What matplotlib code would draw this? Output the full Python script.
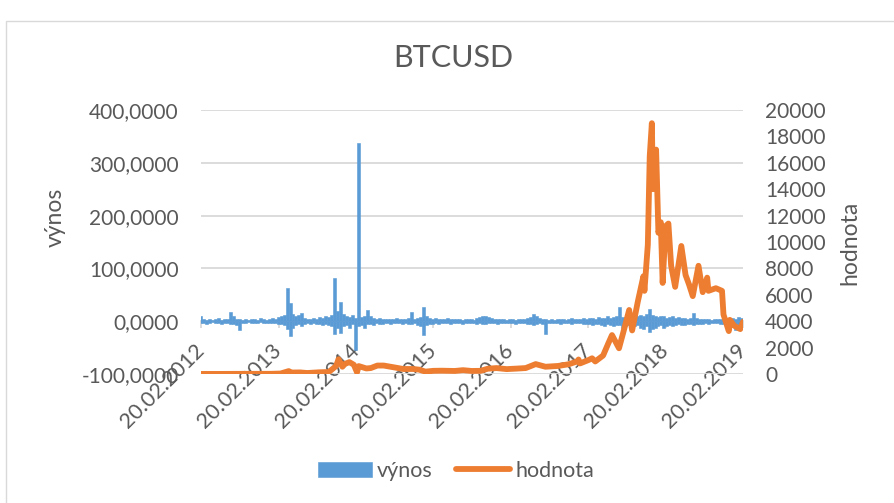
import pandas as pd
import matplotlib
matplotlib.use("Agg")
import matplotlib.pyplot as plt
from matplotlib.ticker import FuncFormatter
from matplotlib.patches import Rectangle

plt.rcParams["font.family"] = ["Lato", "DejaVu Sans"]

# výnos, biweekly max (up) and min (down) from 20.02.2012
vynos_start = "2012-02-20"
vynos_up = [
    10, 4, 3, 5, 3, 4, 6, 3, 4, 5, 18, 9, 5, 4, 3, 4, 3, 5, 4, 3, 6, 4, 3, 5, 6, 4,
    8, 10, 12, 62, 35, 14, 9, 12, 15, 6, 5, 4, 6, 5, 8, 6, 10, 8, 12, 82, 20, 37, 14, 10, 8, 12,
    6, 337, 8, 10, 22, 9, 6, 5, 6, 5, 4, 5, 4, 5, 6, 4, 5, 4, 6, 17, 5, 7, 8, 27, 10, 6,
    5, 6, 4, 5, 4, 6, 5, 4, 5, 4, 3, 5, 4, 4, 3, 6, 8, 9, 10, 8, 6, 5, 4, 4, 5, 3,
    4, 5, 3, 4, 5, 4, 6, 8, 14, 9, 6, 5, 4, 3, 4, 3, 4, 5, 4, 3, 5, 6, 4, 5, 4, 6,
    5, 6, 7, 5, 8, 6, 7, 9, 6, 8, 10, 27, 8, 7, 9, 8, 10, 9, 12, 10, 14, 23, 12, 10, 8, 9,
    10, 7, 8, 9, 6, 8, 7, 6, 5, 6, 15, 6, 5, 4, 5, 4, 3, 4, 5, 4, 6, 5, 4, 6, 5, 8,
    6,
]
vynos_down = [
    -4, -3, -5, -3, -2, -4, -3, -5, -3, -4, -6, -5, -8, -16, -4, -3, -2, -3, -4, -3, -2, -3, -4, -3, -4, -3,
    -5, -6, -8, -15, -28, -12, -8, -6, -10, -5, -4, -6, -4, -5, -6, -8, -5, -7, -10, -25, -12, -22, -10, -8, -12, -6,
    -54, -10, -8, -12, -6, -5, -7, -4, -5, -6, -4, -3, -5, -4, -3, -4, -5, -3, -6, -5, -4, -8, -10, -26, -8, -5,
    -6, -4, -5, -3, -4, -3, -5, -4, -3, -4, -5, -3, -4, -3, -4, -5, -3, -6, -5, -4, -3, -4, -5, -3, -4, -3,
    -4, -3, -5, -4, -3, -4, -5, -6, -8, -5, -4, -6, -24, -4, -3, -4, -3, -5, -4, -3, -4, -5, -4, -3, -4, -5,
    -6, -5, -8, -6, -5, -7, -9, -6, -8, -10, -7, -8, -12, -9, -7, -8, -10, -8, -12, -14, -10, -20, -15, -12, -10, -8,
    -12, -10, -8, -9, -7, -6, -8, -7, -6, -5, -7, -6, -5, -6, -4, -5, -4, -3, -4, -5, -6, -8, -10, -8, -17, -9,
    -6,
]

hodnota_dates = [
    "2012-02-20", "2012-04-01", "2012-06-01", "2012-08-15", "2012-10-01", "2012-12-01",
    "2013-01-15", "2013-03-01", "2013-04-09", "2013-04-20", "2013-06-01", "2013-07-05",
    "2013-09-01", "2013-10-15", "2013-11-18", "2013-11-30", "2013-12-18", "2013-12-28",
    "2014-01-20", "2014-02-10", "2014-02-25", "2014-03-05", "2014-04-10", "2014-05-01",
    "2014-06-01", "2014-07-01", "2014-08-20", "2014-10-01", "2014-11-15", "2014-12-15",
    "2015-01-14", "2015-02-20", "2015-04-01", "2015-06-01", "2015-07-10", "2015-08-20",
    "2015-10-01", "2015-11-04", "2015-12-15", "2016-02-01", "2016-03-20", "2016-05-01",
    "2016-06-17", "2016-08-02", "2016-10-01", "2016-11-20", "2016-12-31", "2017-01-05",
    "2017-01-12", "2017-02-20", "2017-03-10", "2017-03-25", "2017-05-01", "2017-05-25",
    "2017-06-12", "2017-07-15", "2017-08-05", "2017-09-01", "2017-09-15", "2017-10-12",
    "2017-11-07", "2017-11-12", "2017-11-28", "2017-12-07", "2017-12-17", "2017-12-22",
    "2018-01-06", "2018-01-17", "2018-01-28", "2018-02-06", "2018-02-20", "2018-03-05",
    "2018-03-18", "2018-04-06", "2018-05-05", "2018-05-25", "2018-06-10", "2018-06-28",
    "2018-07-25", "2018-08-14", "2018-09-04", "2018-09-10", "2018-10-15", "2018-11-13",
    "2018-11-20", "2018-12-15", "2018-12-20", "2019-01-10", "2019-02-07", "2019-02-20",
]
hodnota = [
    5, 5, 6, 11, 12, 13,
    14, 35, 220, 110, 120, 75,
    130, 150, 600, 1120, 550, 750,
    900, 700, 130, 600, 420, 450,
    640, 640, 500, 380, 380, 330,
    180, 240, 250, 230, 290, 230,
    240, 400, 450, 370, 410, 450,
    750, 550, 610, 740, 960, 1100,
    800, 1050, 1190, 950, 1400, 2300,
    2950, 1950, 3200, 4850, 3300, 5500,
    7400, 6300, 9800, 16500, 19000, 14000,
    17000, 10700, 11500, 6900, 11200, 11400,
    8200, 6600, 9700, 7500, 6800, 5900,
    8200, 6200, 7300, 6300, 6500, 6300,
    4500, 3250, 4100, 3650, 3400, 3950,
]

tick_labels = ["20.02.2012", "20.02.2013", "20.02.2014", "20.02.2015",
               "20.02.2016", "20.02.2017", "20.02.2018", "20.02.2019"]

blue = "#5B9BD5"
orange = "#ED7D31"
txt = "#595959"
grid = "#D9D9D9"

vynos_dates = pd.date_range(vynos_start, periods=len(vynos_up), freq="14D")
tick_dates = pd.to_datetime(tick_labels, format="%d.%m.%Y")

fig = plt.figure(figsize=(8.94, 5.03), dpi=100)
ax = fig.add_axes([201 / 894, 1 - 374 / 503, 542 / 894, 264 / 503])
ax2 = ax.twinx()

bars = ax.bar(vynos_dates, vynos_up, width=14, color=blue, edgecolor=blue, lw=0.4,
              label="výnos", zorder=2)
ax.bar(vynos_dates, vynos_down, width=14, color=blue, edgecolor=blue, lw=0.4, zorder=2)
line, = ax2.plot(pd.to_datetime(hodnota_dates), hodnota, color=orange, lw=4.2,
                 solid_joinstyle="round", solid_capstyle="round", label="hodnota")

ax.set_ylim(-100, 400)
ax.set_yticks(range(-100, 401, 100))
ax.yaxis.set_major_formatter(FuncFormatter(lambda v, p: f"{v:.4f}".replace(".", ",")))
ax2.set_ylim(0, 20000)
ax2.set_yticks(range(0, 20001, 2000))

ax.set_xlim(tick_dates[0], tick_dates[-1])
ax.set_xticks(tick_dates)
ax.set_xticklabels(tick_labels, rotation=45, ha="right", va="center", rotation_mode="anchor")
ax.tick_params(axis="x", length=0, pad=-19, labelsize=15.5, labelcolor=txt)
ax.tick_params(axis="y", length=0, pad=16, labelsize=15, labelcolor=txt)
ax2.tick_params(axis="y", length=0, pad=16, labelsize=15, labelcolor=txt)

ax.grid(axis="y", color=grid, lw=1.3)
ax.set_axisbelow(True)
for a in (ax, ax2):
    for s in a.spines.values():
        s.set_visible(False)

# horizontal axis line at výnos = 0 with year ticks
secax = ax.secondary_xaxis(100 / 500)
secax.set_xticks(tick_dates)
secax.set_xticklabels([""] * len(tick_dates))
secax.tick_params(length=5, width=1.3, color=grid)
secax.spines["bottom"].set_color(grid)
secax.spines["bottom"].set_linewidth(1.3)

fig.text(453.5 / 894, 1 - 66.7 / 503, "BTCUSD", ha="center", va="baseline",
         fontsize=22, color=txt)
fig.text(55 / 894, 1 - 217 / 503, "výnos", rotation=90, ha="center", va="center",
         fontsize=16.5, color=txt)
fig.text(850 / 894, 1 - 243 / 503, "hodnota", rotation=90, ha="center", va="center",
         fontsize=16.5, color=txt)

fig.legend([bars, line], ["výnos", "hodnota"], loc="center",
           bbox_to_anchor=(456 / 894, 1 - 471 / 503), ncol=2, frameon=False,
           fontsize=15.5, handlelength=2.5, handletextpad=0.25, columnspacing=1.1,
           labelcolor=txt)

fig.patches.append(Rectangle((6 / 894, -0.1), 1.2, 1 - 21 / 503 + 0.1, fill=False,
                             edgecolor=grid, lw=1, transform=fig.transFigure))

fig.savefig("out.png", dpi=100)
